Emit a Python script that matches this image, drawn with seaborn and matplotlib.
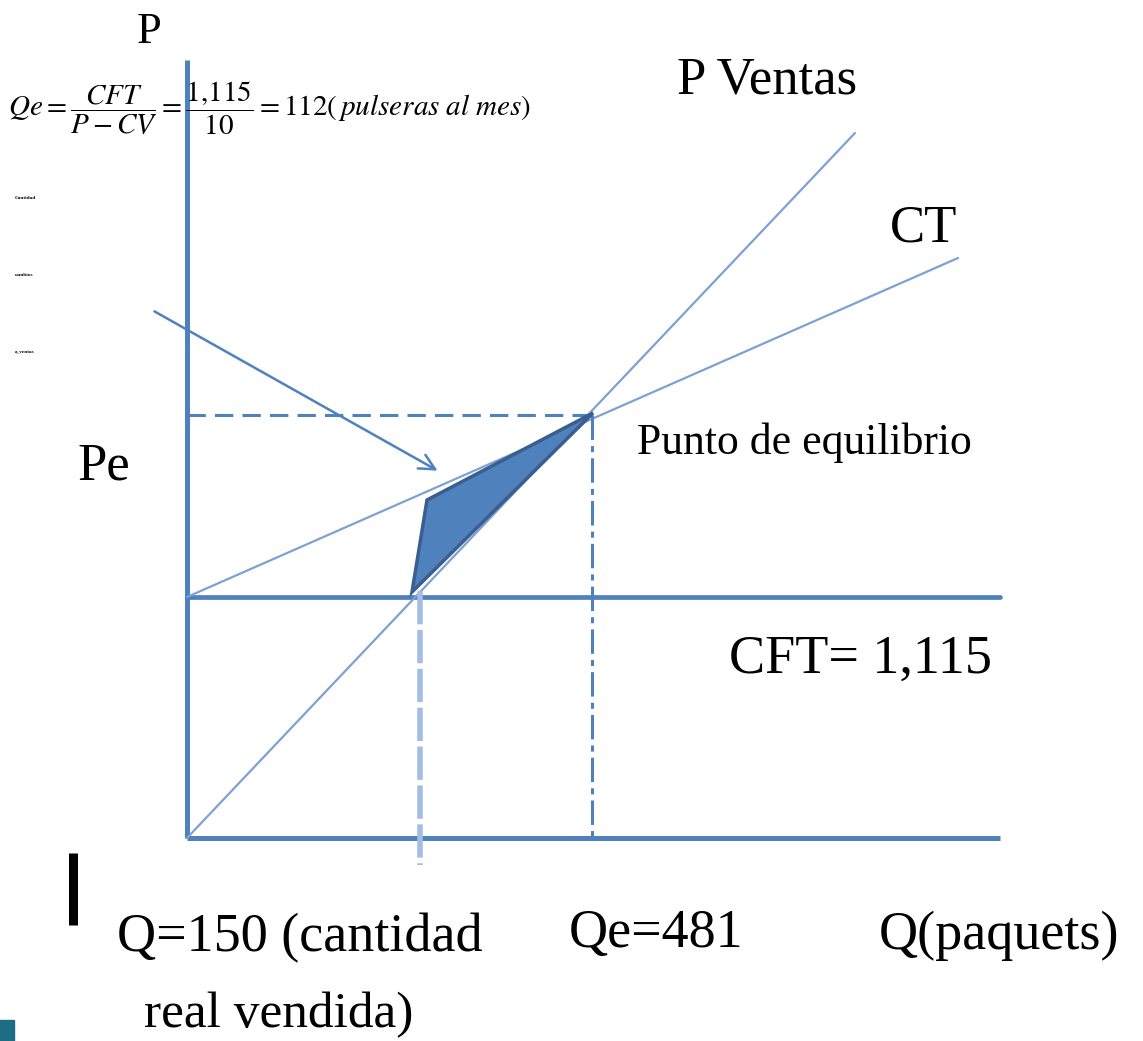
import matplotlib
matplotlib.use("Agg")
import matplotlib.pyplot as plt
from matplotlib.patches import Polygon, Rectangle
import seaborn as sns

# Datos del punto de equilibrio (unidades del esquema)
q_ventas = [0, 668]
p_ventas = [0, 705]
q_ct = [0, 771]
ct = [241, 580]
cft = 241
q_max = 813
p_max = 778
q_eq = 405
p_eq = 423
q_real = 233
zona_q = [225, 240, 406]
zona_p = [246, 338, 425]
flecha_q = [-35, 253]
flecha_p = [528, 366]

azul = "#4F81BD"
azul_claro = "#7DA1D4"

sns.set_style("white")
plt.rcParams["font.family"] = ["Liberation Serif", "DejaVu Serif"]
plt.rcParams["mathtext.fontset"] = "stix"
plt.rcParams["text.color"] = "black"

fig = plt.figure(figsize=(11.43, 10.41), dpi=100)
ax = fig.add_axes([0, 0, 1, 1])
ax.set_xlim(-187, 956)
ax.set_ylim(-203, 838)
ax.axis("off")

# Ejes
ax.plot([0, 0], [0, p_max], color=azul, lw=3.6, solid_capstyle="butt")
ax.plot([0, q_max], [0, 0], color=azul, lw=3.6, solid_capstyle="butt")

# Costo fijo total
ax.plot([0, q_max], [cft, cft], color=azul, lw=3.4)

# Ventas y costo total
sns.lineplot(x=q_ventas, y=p_ventas, ax=ax, color=azul_claro, lw=1.6)
sns.lineplot(x=q_ct, y=ct, ax=ax, color=azul_claro, lw=1.6)

# Lineas punteadas del equilibrio
ax.plot([0, q_eq], [p_eq, p_eq], color=azul, lw=2.2, ls=(0, (6, 3)))
ax.plot([q_eq, q_eq], [p_eq, 0], color=azul, lw=2.2, ls=(0, (8, 2, 2, 2)))
ax.plot([q_real, q_real], [cft + 6, -27], color="#A3BEE2", lw=4, ls=(0, (6, 1)))

# Zona sombreada
ax.add_patch(Polygon(list(zip(zona_q, zona_p)), closed=True,
                     facecolor=azul, edgecolor="#3A5F8F", lw=2.5, zorder=3))

# Flecha
ax.annotate("", xy=(flecha_q[1], flecha_p[1]), xytext=(flecha_q[0], flecha_p[0]),
            arrowprops=dict(arrowstyle="->", color=azul, lw=1.8, mutation_scale=28))

# Textos
ax.text(-38, 806, "P", fontsize=32, ha="center", va="center")
ax.text(-179, 730,
        r"$Qe=\dfrac{CFT}{P-CV}=\dfrac{1{,}115}{10}=112(\,pulseras\ al\ mes)$",
        fontsize=21, ha="left", va="center")
for yy, t in zip([640, 563, 486], ["Cantidad", "cambios", "a_ventas"]):
    ax.text(-172, yy, t, fontsize=3.8, fontweight="bold", ha="left", va="center")
ax.text(490, 757, "P Ventas", fontsize=38, ha="left", va="center")
ax.text(703, 610, "CT", fontsize=38, ha="left", va="center")
ax.text(450, 395, "Punto de equilibrio", fontsize=31.5, ha="left", va="center")
ax.text(-110, 372, "Pe", fontsize=38, ha="left", va="center")
ax.text(542, 178, "CFT= 1,115", fontsize=39, ha="left", va="center")
ax.text(-70, -100, "Q=150 (cantidad", fontsize=39, ha="left", va="center")
ax.text(-43, -177, "real vendida)", fontsize=37, ha="left", va="center")
ax.text(382, -96, "Qe=481", fontsize=39, ha="left", va="center")
ax.text(692, -98, "Q(paquets)", fontsize=39, ha="left", va="center")

# Decoraciones
ax.plot([-114.5, -114.5], [-15, -87], color="black", lw=6.5, solid_capstyle="butt")
ax.add_patch(Rectangle((-187, -203), 14, 21, color="#1D6E82"))

fig.savefig("out.png", dpi=100)
